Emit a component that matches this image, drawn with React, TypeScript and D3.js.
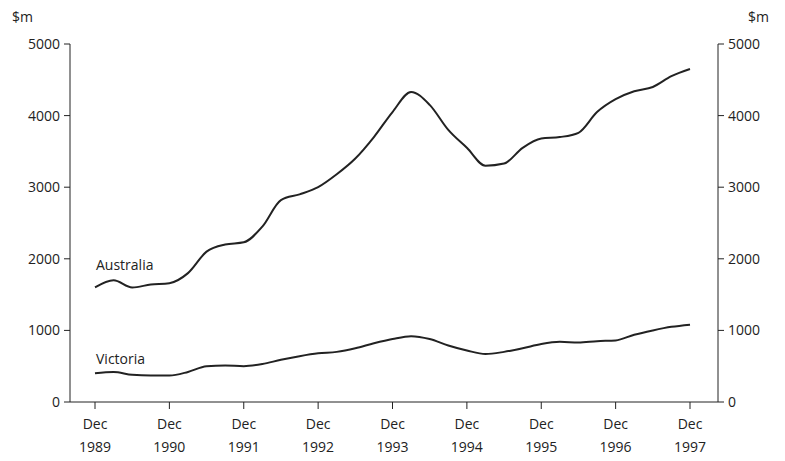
import * as d3 from "d3";

const quarters = d3.range(33); // Dec 1989 .. Dec 1997, quarterly
const australia = [1600, 1700, 1600, 1640, 1660, 1800, 2100, 2200, 2230, 2450, 2820, 2900, 3000,
  3180, 3400, 3700, 4050, 4330, 4150, 3800, 3550, 3300, 3330, 3550, 3680, 3700, 3760, 4050, 4230,
  4340, 4400, 4550, 4650];
const victoria = [400, 420, 380, 370, 370, 420, 500, 510, 500, 530, 590, 640, 680, 700, 750, 820,
  880, 920, 880, 790, 720, 670, 700, 750, 810, 840, 830, 850, 860, 940, 1000, 1050, 1080];
const yTicks = [0, 1000, 2000, 3000, 4000, 5000];
const xLabels = ["1989", "1990", "1991", "1992", "1993", "1994", "1995", "1996", "1997"];

const W = 785, H = 461;
const x = d3.scaleLinear().domain([0, 32]).range([95, 690]);
const y = d3.scaleLinear().domain([0, 5000]).range([402, 44]);
const font = "'Open Sans', sans-serif";

export default function App() {
  const line = d3.line<number>().x((_, i) => x(i)).y((d) => y(d)).curve(d3.curveMonotoneX);
  return (
    <svg width={W} height={H} style={{ position: "absolute", left: 0, top: 0 }} fontFamily={font} fontSize={14} fill="#222">
      <line x1={70} x2={70} y1={y(5000)} y2={y(0)} stroke="#222" />
      <line x1={718} x2={718} y1={y(5000)} y2={y(0)} stroke="#222" />
      <line x1={70} x2={718} y1={y(0)} y2={y(0)} stroke="#222" />
      <text x={12} y={22}>$m</text>
      <text x={748} y={22}>$m</text>
      {yTicks.map((t) => (
        <g key={t}>
          <line x1={64} x2={70} y1={y(t)} y2={y(t)} stroke="#222" />
          <line x1={718} x2={724} y1={y(t)} y2={y(t)} stroke="#222" />
          <text x={60} y={y(t) + 5} textAnchor="end">{t}</text>
          <text x={728} y={y(t) + 5}>{t}</text>
        </g>
      ))}
      {xLabels.map((l, i) => (
        <g key={l}>
          <line x1={x(i * 4)} x2={x(i * 4)} y1={402} y2={409} stroke="#222" />
          <text x={x(i * 4)} y={429} textAnchor="middle">Dec</text>
          <text x={x(i * 4)} y={452} textAnchor="middle">{l}</text>
        </g>
      ))}
      <path d={line(australia) ?? ""} fill="none" stroke="#222" strokeWidth={2} />
      <path d={line(victoria) ?? ""} fill="none" stroke="#222" strokeWidth={2} />
      <text x={96} y={270}>Australia</text>
      <text x={96} y={364}>Victoria</text>
    </svg>
  );
}
